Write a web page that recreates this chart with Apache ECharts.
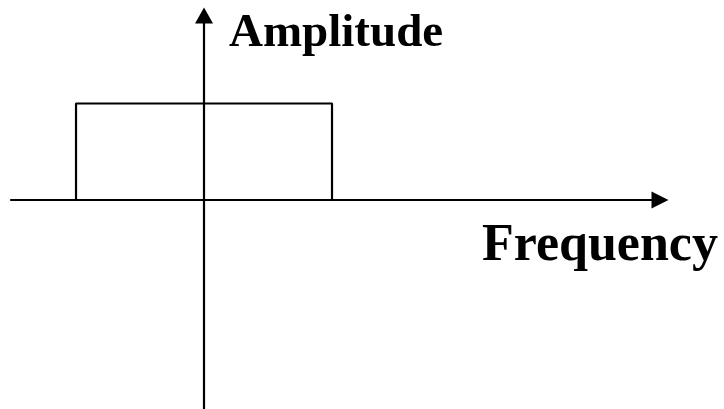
<!DOCTYPE html>
<html>
<head>
<meta charset="utf-8">
<script src="https://cdn.jsdelivr.net/npm/echarts@6/dist/echarts.min.js"></script>
<style>
  html, body { margin: 0; padding: 0; background: #fff; }
  #main { width: 724px; height: 409px; }
</style>
</head>
<body>
<div id="main"></div>
<script>
// rectangular spectrum: flat amplitude between -1 and +1
var freqs = [-1, -1, 1, 1];
var amps = [0, 1, 1, 0];
var xLabel = 'Frequency';
var yLabel = 'Amplitude';

var rect = freqs.map(function (f, i) { return [f, amps[i]]; });

var myChart = echarts.init(document.getElementById('main'));
var font = '"Liberation Serif", "Times New Roman", serif';

var option = {
    animation: false,
    backgroundColor: '#fff',
    grid: { left: 11, right: 64, top: 15.5, bottom: 0 },
    xAxis: {
        type: 'value',
        min: -1.508,
        max: 3.5625,
        axisLine: {
            onZero: true,
            symbol: ['none', 'triangle'],
            symbolSize: [17, 17],
            lineStyle: { color: '#000', width: 2.2 }
        },
        axisTick: { show: false },
        axisLabel: { show: false },
        splitLine: { show: false }
    },
    yAxis: {
        type: 'value',
        min: -2.166,
        max: 1.912,
        axisLine: {
            show: true,
            onZero: true,
            symbol: ['none', 'triangle'],
            symbolSize: [18, 16],
            lineStyle: { color: '#000', width: 2.2 }
        },
        axisTick: { show: false },
        axisLabel: { show: false },
        splitLine: { show: false }
    },
    graphic: [
        {
            type: 'text', left: 229, top: 10,
            style: { text: yLabel, font: 'bold 47px ' + font, fill: '#000' }
        },
        {
            type: 'text', left: 482, top: 221,
            style: { text: xLabel, font: 'bold 52px ' + font, fill: '#000' }
        }
    ],
    series: [{
        type: 'line',
        data: rect,
        symbol: 'none',
        lineStyle: { color: '#000', width: 2.2 }
    }]
};
myChart.setOption(option);
</script>
</body>
</html>
